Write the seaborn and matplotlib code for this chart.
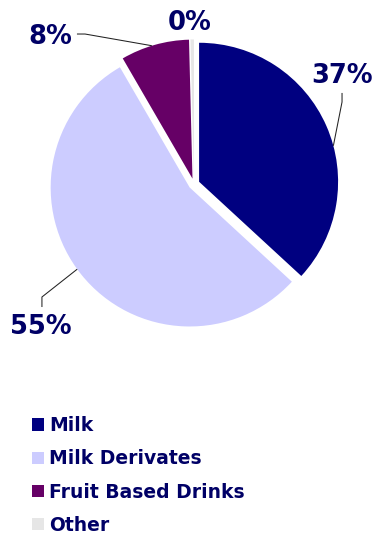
import numpy as np
import matplotlib
matplotlib.use("Agg")
import matplotlib.pyplot as plt
import seaborn as sns

# Drink category shares (percent)
categories = ["Milk", "Milk Derivates", "Fruit Based Drinks", "Other"]
shares = [37, 55, 8, 0.4]
colors = ["#000080", "#CCCCFF", "#660066", "#E6E6E6"]

# Label placement: text position, leader elbow, leader start and the arc angle it points at
label_text_pos = {0: (1.065, 0.777), 1: (-1.101, -1.029), 2: (-1.036, 1.058), 3: (-0.029, 1.158)}
leader_paths = {
    0: [(1.065, 0.655), (1.065, 0.590)],
    1: [(-1.094, -0.885), (-1.094, -0.813)],
    2: [(-0.842, 1.079), (-0.784, 1.079)],
}
leader_angles = {0: 15.0, 1: 216.0, 2: 107.0}

sns.set_theme(style="white")
plt.rcParams["font.family"] = ["DejaVu Sans"]
text_color = "#000066"

fig = plt.figure(figsize=(3.78, 5.35), dpi=100)
ax = fig.add_axes([0, 0, 1, 1])

wedges, _ = ax.pie(
    shares,
    colors=colors,
    startangle=90,
    counterclock=False,
    explode=[0.04] * len(shares),
    radius=1.0,
    wedgeprops=dict(linewidth=0),
)

total = sum(shares)
for i, w in enumerate(wedges):
    pct = 100.0 * shares[i] / total
    tx, ty = label_text_pos[i]
    ax.text(tx, ty, f"{pct:.0f}%", ha="center", va="center",
            fontsize=18.5, fontweight="bold", color=text_color)
    if i in leader_paths:
        cx, cy = w.center
        ang = np.deg2rad(leader_angles[i])
        end = (cx + w.r * np.cos(ang), cy + w.r * np.sin(ang))
        pts = leader_paths[i] + [end]
        xs, ys = zip(*pts)
        ax.plot(xs, ys, color="#222222", linewidth=0.75, solid_capstyle="butt")

ax.set_aspect("equal")
ax.set_xlim(-194 / 139, 184 / 139)
ax.set_ylim(-351 / 139, 184 / 139)
ax.axis("off")

leg = fig.legend(
    wedges, categories,
    loc="upper left",
    bbox_to_anchor=(32 / 378, 1 - 416 / 535),
    frameon=False,
    fontsize=13.5,
    handlelength=0.63,
    handleheight=0.63,
    handletextpad=0.28,
    labelspacing=0.76,
    borderpad=0,
    borderaxespad=0,
)
for t in leg.get_texts():
    t.set_color(text_color)
    t.set_fontweight("bold")

fig.savefig("out.png", dpi=100)
